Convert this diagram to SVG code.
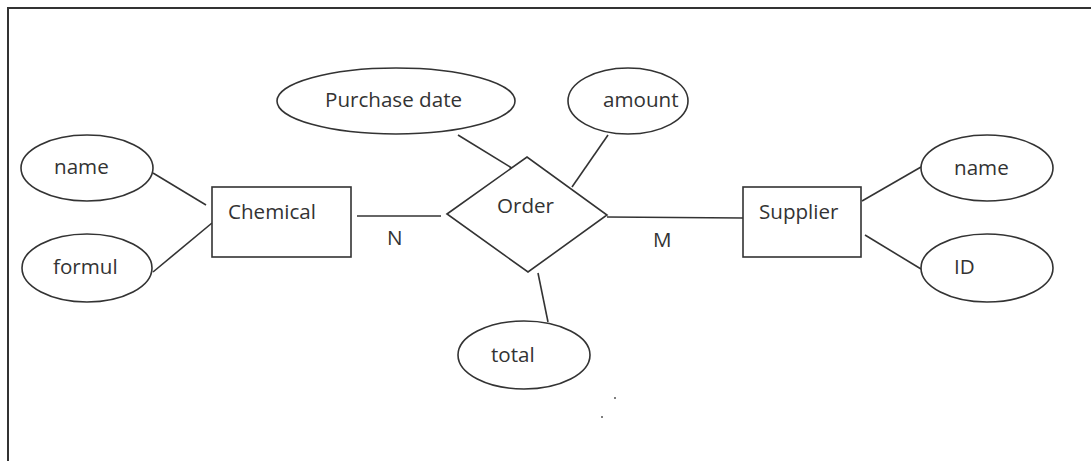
<svg xmlns="http://www.w3.org/2000/svg" width="1091" height="461" viewBox="0 0 1091 461">
<style>
.s{fill:#fff;stroke:#333;stroke-width:1.6}
.c line{stroke:#333;stroke-width:1.6}
text{font-family:"Open Sans","Liberation Sans",sans-serif;font-size:20.6px;fill:#333}
</style>
<rect width="1091" height="461" fill="#fff"/>
<path d="M8,461 V8 H1091" fill="none" stroke="#333" stroke-width="2"/>
<g class="c" id="connectors">
<line x1="153" y1="173" x2="206" y2="205"/>
<line x1="153" y1="272" x2="212" y2="223"/>
<line x1="357" y1="216" x2="441" y2="216"/>
<line x1="607" y1="217" x2="743" y2="218"/>
<line x1="458" y1="135" x2="515" y2="170"/>
<line x1="608" y1="135" x2="572" y2="187"/>
<line x1="538" y1="273" x2="548" y2="322"/>
<line x1="862" y1="201" x2="921" y2="167"/>
<line x1="865" y1="235" x2="921" y2="269"/>
</g>
<g id="n-name-left"><ellipse class="s" cx="87" cy="168" rx="66" ry="33"/><text x="54" y="174">name</text></g>
<g id="n-formul"><ellipse class="s" cx="87" cy="268" rx="65" ry="34"/><text x="53" y="274">formul</text></g>
<g id="n-chemical"><rect class="s" x="212" y="187" width="139" height="70"/><text x="228" y="219">Chemical</text></g>
<g id="n-purchase"><ellipse class="s" cx="396" cy="101" rx="119" ry="33"/><text x="325" y="107">Purchase date</text></g>
<g id="n-amount"><ellipse class="s" cx="628" cy="101" rx="60" ry="33"/><text x="603" y="107">amount</text></g>
<g id="n-order"><polygon class="s" points="447,214 527,157 607,215 528,272"/><text x="497" y="213">Order</text></g>
<g id="n-total"><ellipse class="s" cx="524" cy="355" rx="66" ry="34"/><text x="491" y="362">total</text></g>
<g id="n-supplier"><rect class="s" x="743" y="187" width="118" height="70"/><text x="759" y="219">Supplier</text></g>
<g id="n-name-right"><ellipse class="s" cx="987" cy="168" rx="66" ry="33"/><text x="954" y="175">name</text></g>
<g id="n-id"><ellipse class="s" cx="987" cy="268" rx="66" ry="34"/><text x="954" y="274">ID</text></g>
<g id="labels">
<text x="387" y="245">N</text>
<text x="653" y="247">M</text>
</g>
<circle cx="615" cy="398" r="1" fill="#555"/>
<circle cx="602" cy="417" r="1" fill="#555"/>
</svg>
